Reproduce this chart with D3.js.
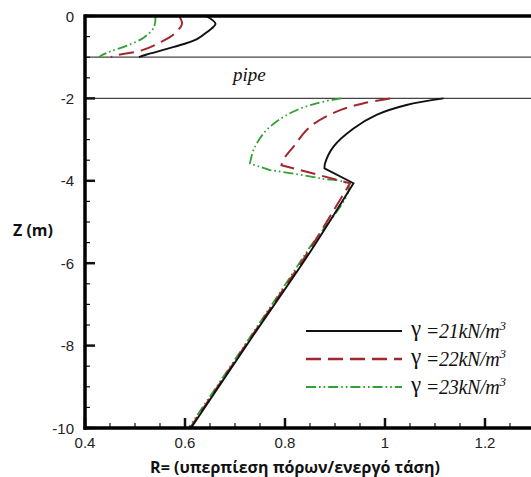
<!DOCTYPE html>
<html>
<head>
<meta charset="utf-8">
<script src="https://cdn.jsdelivr.net/npm/d3@7"></script>
<style>
  html, body { margin: 0; padding: 0; background: #fff; }
  svg { display: block; }
</style>
</head>
<body>
<svg id="chart" width="531" height="477"></svg>
<script>
// Excess pore pressure ratio R versus depth Z, for three soil unit weights.
// Above the pipe each profile is one smooth arc; below it each profile has a
// smooth bend down to a corner, a straight kink back to Z≈-4, then a long tail.

const seriesLabels = ["21", "22", "23"];

// γ = 21 kN/m³  — [R, Z]
const g21Upper = [[0.642, 0], [0.661, -0.19], [0.645, -0.38], [0.624, -0.56], [0.578, -0.75], [0.522, -0.94], [0.508, -1]];
const g21Bend  = [[1.117, -2], [1.043, -2.16], [0.983, -2.40], [0.937, -2.73], [0.897, -3.17], [0.880, -3.58], [0.879, -3.70]];
const g21Tail  = [[0.937, -4.06], [0.849, -5.75], [0.731, -7.85], [0.612, -10]];

// γ = 22 kN/m³
const g22Upper = [[0.588, 0], [0.594, -0.19], [0.578, -0.44], [0.552, -0.63], [0.512, -0.84], [0.464, -0.95], [0.452, -1]];
const g22Bend  = [[1.010, -2], [0.957, -2.12], [0.903, -2.32], [0.850, -2.69], [0.817, -3.17], [0.796, -3.50], [0.793, -3.62]];
const g22Tail  = [[0.930, -4.06], [0.845, -5.75], [0.729, -7.85], [0.610, -10]];

// γ = 23 kN/m³
const g23Upper = [[0.541, 0], [0.538, -0.27], [0.518, -0.52], [0.484, -0.72], [0.451, -0.86], [0.434, -0.95], [0.428, -1]];
const g23Bend  = [[0.913, -2], [0.863, -2.12], [0.810, -2.36], [0.763, -2.77], [0.737, -3.25], [0.730, -3.58]];
const g23Tail  = [[0.770, -3.74], [0.870, -3.94], [0.927, -4.12], [0.842, -5.75], [0.727, -7.85], [0.607, -10]];

// Pipe boundaries (depth, m)
const pipeDepths = [-1, -2];

// Axis ticks
const xTickValues = [0.4, 0.6, 0.8, 1.0, 1.2];
const xTickLabels = ["0.4", "0.6", "0.8", "1", "1.2"];
const yTickValues = [0, -2, -4, -6, -8, -10];
const yTickLabels = ["0", "-2", "-4", "-6", "-8", "-10"];

const svg = d3.select("#chart");

const x = d3.scaleLinear().domain([0.4, 1.3]).range([85, 535]);
const y = d3.scaleLinear().domain([0, -10]).range([16, 428]);

const series = [
  { upper: g21Upper, bend: g21Bend, tail: g21Tail, color: "#111111", dash: null, width: 1.9 },
  { upper: g22Upper, bend: g22Bend, tail: g22Tail, color: "#a3262d", dash: "15,7", width: 2 },
  { upper: g23Upper, bend: g23Bend, tail: g23Tail, color: "#33a033", dash: "10,3,1.6,3,1.6,3", width: 1.8 }
];

// pipe boundary lines
svg.selectAll("line.pipe")
  .data(pipeDepths)
  .join("line")
  .attr("class", "pipe")
  .attr("x1", x(0.4)).attr("x2", 531)
  .attr("y1", d => y(d)).attr("y2", d => y(d))
  .attr("stroke", "#444").attr("stroke-width", 1.2);

svg.append("text")
  .attr("x", 233).attr("y", 81)
  .attr("font-family", "'Liberation Serif', 'Times New Roman', serif")
  .attr("font-style", "italic")
  .attr("font-size", 19)
  .attr("fill", "#111")
  .text("pipe");

// curves
const smooth = d3.line().x(d => x(d[0])).y(d => y(d[1])).curve(d3.curveCatmullRom.alpha(0.5));
const joinPaths = (...parts) => parts.map((p, i) => i === 0 ? p : p.replace(/^M/, "L")).join("");

series.slice().reverse().forEach(s => {
  const paths = [smooth(s.upper), joinPaths(smooth(s.bend), smooth(s.tail))];
  paths.forEach(d => {
    svg.append("path")
      .attr("d", d)
      .attr("fill", "none")
      .attr("stroke", s.color)
      .attr("stroke-width", s.width)
      .attr("stroke-linejoin", "miter")
      .attr("stroke-dasharray", s.dash);
  });
});

// ticks pointing into the plot
const isMajor = (vals, d) => vals.some(t => Math.abs(t - d) < 1e-6);
const xMinor = d3.range(0, 18).map(i => 0.4 + i * 0.05).filter(v => v < 1.299);
svg.selectAll("line.xtick")
  .data(xMinor)
  .join("line")
  .attr("x1", d => x(d)).attr("x2", d => x(d))
  .attr("y1", y(-10))
  .attr("y2", d => y(-10) - (isMajor(xTickValues, d) ? 10 : 5))
  .attr("stroke", "#111").attr("stroke-width", d => isMajor(xTickValues, d) ? 2.5 : 1.2);

const yMinor = d3.range(0, 21).map(i => -i * 0.5);
svg.selectAll("line.ytick")
  .data(yMinor)
  .join("line")
  .attr("y1", d => y(d)).attr("y2", d => y(d))
  .attr("x1", x(0.4))
  .attr("x2", d => x(0.4) + (isMajor(yTickValues, d) ? 10 : 5))
  .attr("stroke", "#111").attr("stroke-width", d => isMajor(yTickValues, d) ? 2.5 : 1.2);

// frame lines
svg.append("line").attr("x1", x(0.4)).attr("x2", 531).attr("y1", y(0)).attr("y2", y(0))
  .attr("stroke", "#000").attr("stroke-width", 3.5);
svg.append("line").attr("x1", x(0.4) - 1.5).attr("x2", 531).attr("y1", y(-10)).attr("y2", y(-10))
  .attr("stroke", "#000").attr("stroke-width", 3.5);
svg.append("line").attr("x1", x(0.4)).attr("x2", x(0.4)).attr("y1", y(0) - 1.75).attr("y2", y(-10) + 1.75)
  .attr("stroke", "#000").attr("stroke-width", 3.5);

// tick labels
const tickFont = "'Liberation Sans', Arial, sans-serif";
svg.selectAll("text.xlab")
  .data(xTickValues)
  .join("text")
  .attr("x", d => x(d))
  .attr("y", 448)
  .attr("text-anchor", "middle")
  .attr("font-family", tickFont)
  .attr("font-size", 15)
  .attr("fill", "#222")
  .text((d, i) => xTickLabels[i]);

svg.selectAll("text.ylab")
  .data(yTickValues)
  .join("text")
  .attr("x", 74)
  .attr("y", d => y(d) + 5.5)
  .attr("text-anchor", "end")
  .attr("font-family", tickFont)
  .attr("font-size", 15)
  .attr("fill", "#222")
  .text((d, i) => yTickLabels[i]);

// axis titles
const titleFont = "'Open Sans', 'Noto Sans', sans-serif";
svg.append("text")
  .attr("x", 13).attr("y", 236)
  .attr("font-family", titleFont)
  .attr("font-weight", "bold")
  .attr("font-size", 16)
  .attr("fill", "#111")
  .text("Z (m)");

svg.append("text")
  .attr("x", 295).attr("y", 473)
  .attr("text-anchor", "middle")
  .attr("font-family", titleFont)
  .attr("font-weight", "bold")
  .attr("font-size", 16)
  .attr("fill", "#111")
  .text("R= (υπερπίεση πόρων/ενεργό τάση)");

// legend
const legendY = [331, 359, 387];
const legend = svg.selectAll("g.legend")
  .data(series)
  .join("g")
  .attr("transform", (d, i) => `translate(0,${legendY[i]})`);

legend.append("line")
  .attr("x1", 306).attr("x2", 402)
  .attr("y1", 0).attr("y2", 0)
  .attr("stroke", d => d.color)
  .attr("stroke-width", d => d.width + 0.3)
  .attr("stroke-dasharray", d => d.dash);

const lt = legend.append("text")
  .attr("x", 411).attr("y", 7)
  .attr("font-family", "'Liberation Serif', 'Times New Roman', serif")
  .attr("font-size", 20)
  .attr("fill", "#111");
lt.append("tspan").attr("font-size", 23).attr("dy", -2).text("γ");
lt.append("tspan").attr("font-style", "italic").attr("letter-spacing", -0.3).attr("dy", 2)
  .text((d, i) => " =" + seriesLabels[i] + "kN/m");
lt.append("tspan").attr("font-style", "italic").attr("font-size", 13).attr("dy", -8).text("3");
</script>
</body>
</html>
